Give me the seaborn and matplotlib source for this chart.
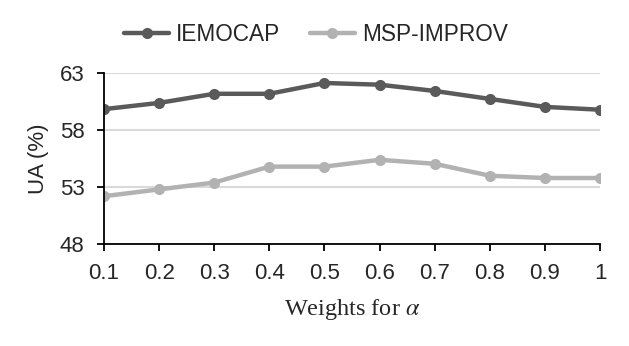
import pandas as pd
import seaborn as sns
import matplotlib.pyplot as plt

weights = [0.1, 0.2, 0.3, 0.4, 0.5, 0.6, 0.7, 0.8, 0.9, 1.0]
weight_labels = ["0.1", "0.2", "0.3", "0.4", "0.5", "0.6", "0.7", "0.8", "0.9", "1"]
iemocap = [59.85, 60.4, 61.2, 61.2, 62.15, 62.0, 61.45, 60.75, 60.05, 59.8]
msp_improv = [52.2, 52.8, 53.4, 54.8, 54.8, 55.4, 55.05, 54.0, 53.8, 53.8]

sns.set_style("white")
plt.rcParams["font.family"] = ["Liberation Sans", "DejaVu Sans"]
plt.rcParams["mathtext.fontset"] = "stix"

df = pd.DataFrame({
    "weight": weights * 2,
    "ua": iemocap + msp_improv,
    "dataset": ["IEMOCAP"] * 10 + ["MSP-IMPROV"] * 10,
})

fig = plt.figure(figsize=(6.29, 3.46), dpi=100)
ax = fig.add_axes([0.1653, 0.2948, 0.7886, 0.4933])

sns.lineplot(data=df, x="weight", y="ua", hue="dataset",
             palette={"IEMOCAP": "#5a5a5a", "MSP-IMPROV": "#b2b2b2"},
             marker="o", markersize=8, markeredgewidth=0, linewidth=3.2, ax=ax)

ax.set_xlim(0.1, 1.0)
ax.set_ylim(48, 63)
ax.set_xticks(weights)
ax.set_xticklabels(weight_labels)
ax.set_yticks([48, 53, 58, 63])
ax.yaxis.grid(True, color="#d9d9d9", linewidth=1.5)
ax.set_axisbelow(True)

for s in ["top", "right"]:
    ax.spines[s].set_visible(False)
for s in ["left", "bottom"]:
    ax.spines[s].set_color("black")
    ax.spines[s].set_linewidth(1.3)
ax.tick_params(axis="both", direction="out", length=5, width=1.3, color="black",
               labelsize=16, left=True, bottom=True)
ax.tick_params(axis="x", pad=9)
ax.tick_params(axis="y", pad=9)

ax.set_ylabel("UA (%)", fontsize=16)
ax.yaxis.set_label_coords(-0.11, 0.5)
ax.set_xlabel(r"Weights for $\alpha$", fontsize=17.5, family="Liberation Serif", labelpad=9)

handles, labels = ax.get_legend_handles_labels()
ax.legend(handles, labels, loc="center", bbox_to_anchor=(0.427, 1.23), ncol=2,
          frameon=False, fontsize=16.3, handlelength=2.0, handletextpad=0.3,
          columnspacing=1.3)

fig.savefig("out.png", dpi=100)
